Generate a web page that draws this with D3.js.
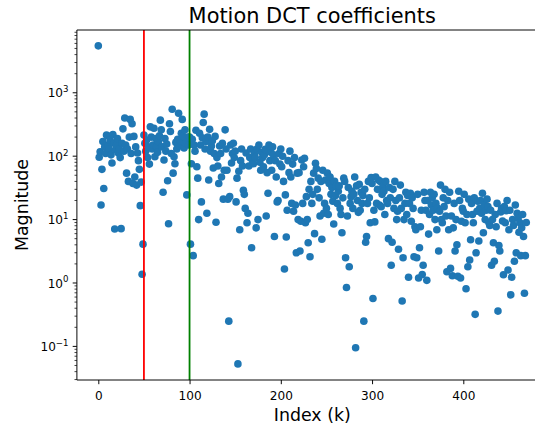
<!DOCTYPE html>
<html>
<head>
<meta charset="utf-8">
<script src="https://cdn.jsdelivr.net/npm/d3@7"></script>
<style>
  html, body { margin: 0; padding: 0; background: #fff; }
  svg { display: block; font-family: "DejaVu Sans", sans-serif; }
</style>
</head>
<body>
<svg id="chart" width="535" height="426"></svg>
<script>
// Magnitude of each DCT coefficient, index k = position in the array
const magnitude = [
  5500, 96, 117, 17, 62, 170, 31, 140, 110, 215,
  210, 150, 130, 180, 105, 78, 220, 160, 7.1, 125,
  150, 190, 112, 130, 95, 7.2, 160, 270, 120, 400,
  150, 54, 130, 40, 200, 380, 110, 325, 37, 205,
  47, 140, 35, 112, 85, 62, 16.6, 39, 1.37, 4.1,
  215, 160, 120, 180, 95, 140, 75, 290, 200, 130,
  150, 275, 98, 190, 140, 115, 170, 210, 370, 260,
  140, 27, 87, 190, 120, 155, 41, 8.6, 325, 245,
  110, 550, 54, 98, 76, 165, 130, 185, 475, 145,
  175, 230, 380, 205, 135, 260, 160, 24.5, 200, 150,
  200, 4.1, 76, 185, 2.7, 150, 120, 257, 68, 45,
  10, 230, 150, 19, 195, 340, 460, 130, 170, 12.6,
  200, 42, 265, 120, 145, 175, 65, 110, 205, 9.1,
  95, 70, 37, 145, 110, 47, 160, 21, 60, 260,
  130, 60, 21, 0.25, 23, 150, 78, 110, 160, 95,
  120, 19, 45, 0.053, 58, 6.9, 85, 130, 70, 29,
  25, 15, 112, 8.9, 12.6, 70, 95, 130, 3.6, 85,
  76, 110, 95, 7.4, 130, 10, 150, 80, 60, 115,
  95, 68, 105, 128, 11.4, 55, 26, 150, 85, 115,
  60, 140, 105, 5.4, 85, 47, 19, 20, 110, 75,
  130, 68, 100, 40, 1.66, 24.5, 5.3, 14, 85, 55,
  120, 47, 18, 75, 13.5, 95, 17, 3.0, 54, 10,
  55, 3.2, 9.4, 87, 18, 68, 93, 8.9, 23, 10,
  4.3, 30, 2.6, 40, 18, 25, 54, 6.0, 77, 64,
  30, 45, 22, 11.4, 40, 4.9, 60, 12.6, 18, 42,
  15, 54, 12, 37, 47, 25, 32, 19.5, 8.5, 40,
  24, 34, 18, 28, 34, 15, 12, 6.2, 22, 45,
  40, 2.5, 0.85, 11.4, 32, 1.8, 18, 23, 28, 15,
  25, 47, 0.095, 34, 20, 13, 36, 14, 27, 18,
  24, 0.25, 30, 4.4, 5.4, 18, 40, 22, 8.9, 46,
  37, 0.57, 14, 9.2, 47, 18, 30, 42, 17, 40,
  16, 25, 34, 28, 12, 40, 20, 18, 5.0, 32,
  22, 1.9, 4.4, 30, 15, 40, 20, 10, 13.5, 3.4,
  22, 35, 15, 0.52, 2.5, 10, 18, 27, 12, 24,
  1.23, 18, 26, 9.4, 22, 15, 2.6, 7.7, 6.9, 2.5,
  25, 1.2, 3.6, 7.7, 14, 1.36, 1.9, 27, 20, 14,
  1.1, 20, 5.9, 12, 27, 17, 22, 14, 25, 10,
  18, 6.9, 15, 3.2, 13.5, 35, 10, 8.9, 22, 16,
  30, 11.4, 1.5, 20, 6.9, 27, 1.7, 11.4, 1.3, 7.4,
  18, 3.2, 10, 4.0, 1.28, 28, 20, 1.2, 9.4, 15,
  13.5, 25, 8.9, 0.81, 12, 1.8, 21, 2.3, 4.8, 18,
  12, 8.9, 22, 0.32, 3.0, 13.5, 19.5, 4.6, 15, 20,
  12.6, 26, 6.2, 17, 10, 14, 21, 16, 9, 8.1,
  14, 1.9, 10, 4.3, 2.2, 12, 7.7, 18, 0.36, 3.9,
  3.2, 13.2, 15, 9.5, 1.35, 16, 8.9, 13.8, 20, 1.6,
  6.9, 14, 0.65, 1.23, 10, 8.1, 2.2, 17, 3.0, 12.6,
  10.5, 6.3, 8.9, 2.7, 7.4, 12, 5.4, 0.69, 2.7, 9
];
const markerLines = [
  { k: 50, color: "#ff0000" },
  { k: 100, color: "#008000" }
];
const xTicks = [0, 100, 200, 300, 400];
const yTickExponents = [-1, 0, 1, 2, 3];
const titleText = "Motion DCT coefficients";
const xLabelText = "Index (k)";
const yLabelText = "Magnitude";

(function () {
const svg = d3.select("#chart");
const pLeft = 76.9, pTop = 30, pBottom = 380;
const n = magnitude.length;
const xMin = -0.05 * (n - 1), xMax = 1.05 * (n - 1);
const pxPerUnit = 0.9125;
const pRight = pLeft + (xMax - xMin) * pxPerUnit;

const x = d3.scaleLinear().domain([xMin, xMax]).range([pLeft, pRight]);
const y = d3.scaleLog().domain([Math.pow(10, -1.53), Math.pow(10, 3.99)]).range([pBottom, pTop]);

svg.append("defs").append("clipPath").attr("id", "clip")
  .append("rect").attr("x", pLeft).attr("y", pTop).attr("width", pRight - pLeft).attr("height", pBottom - pTop);

// points
svg.append("g").attr("clip-path", "url(#clip)")
  .selectAll("circle").data(magnitude).join("circle")
  .attr("cx", (d, i) => x(i))
  .attr("cy", d => y(d))
  .attr("r", 3.8)
  .attr("fill", "#1f77b4");

// vertical lines
svg.append("g").selectAll("line").data(markerLines).join("line")
  .attr("x1", d => x(d.k)).attr("x2", d => x(d.k))
  .attr("y1", pTop).attr("y2", pBottom)
  .attr("stroke", d => d.color).attr("stroke-width", 1.8);

// x axis
const xAxis = d3.axisBottom(x).tickValues(xTicks).tickSize(4.2).tickPadding(4.2).tickFormat(d3.format("d"));
const gx = svg.append("g").attr("transform", `translate(0,${pBottom})`).call(xAxis);
gx.select(".domain").remove();
gx.selectAll(".tick line").attr("stroke", "#000").attr("stroke-width", 0.97);
gx.selectAll(".tick text").attr("font-size", 12.1).attr("fill", "#000")
  .attr("font-family", "DejaVu Sans").attr("dy", null).attr("y", 20);

// y axis: minor ticks
const minorVals = [];
for (let e = -2; e <= 3; e++) {
  for (let m = 2; m <= 9; m++) {
    const v = m * Math.pow(10, e);
    if (v >= y.domain()[0] && v <= y.domain()[1]) minorVals.push(v);
  }
}
svg.append("g").selectAll("line").data(minorVals).join("line")
  .attr("x1", pLeft - 2.4).attr("x2", pLeft)
  .attr("y1", d => y(d)).attr("y2", d => y(d))
  .attr("stroke", "#000").attr("stroke-width", 0.73);

const majorG = svg.append("g").selectAll("g").data(yTickExponents).join("g")
  .attr("transform", d => `translate(0,${y(Math.pow(10, d))})`);
majorG.append("line").attr("x1", pLeft - 4.2).attr("x2", pLeft)
  .attr("stroke", "#000").attr("stroke-width", 0.97);
const lbl = majorG.append("text")
  .attr("x", pLeft - 8.4).attr("y", 4.6)
  .attr("text-anchor", "end").attr("font-size", 12.1).attr("fill", "#000");
lbl.append("tspan").text("10");
lbl.append("tspan").attr("dy", -5.2).attr("font-size", 8.6)
  .text(d => d < 0 ? "\u2212" + Math.abs(d) : String(d));

// spines (right spine falls outside the canvas)
const sp = svg.append("g").attr("stroke", "#000").attr("stroke-width", 0.97).attr("fill", "none");
sp.append("line").attr("x1", pLeft).attr("x2", pLeft).attr("y1", pTop).attr("y2", pBottom);
sp.append("line").attr("x1", pLeft).attr("x2", pRight).attr("y1", pBottom).attr("y2", pBottom);
sp.append("line").attr("x1", pLeft).attr("x2", pRight).attr("y1", pTop).attr("y2", pTop);
sp.append("line").attr("x1", pRight).attr("x2", pRight).attr("y1", pTop).attr("y2", pBottom);

// title and labels
svg.append("text").attr("x", (pLeft + pRight) / 2).attr("y", 22.7)
  .attr("text-anchor", "middle").attr("font-size", 20.9).attr("fill", "#000").text(titleText);
svg.append("text").attr("x", (pLeft + pRight) / 2).attr("y", 421)
  .attr("text-anchor", "middle").attr("font-size", 17.4).attr("fill", "#000").text(xLabelText);
svg.append("text").attr("transform", `translate(28,${(pTop + pBottom) / 2}) rotate(-90)`)
  .attr("text-anchor", "middle").attr("font-size", 17.4).attr("fill", "#000").text(yLabelText);
})();
</script>
</body>
</html>
